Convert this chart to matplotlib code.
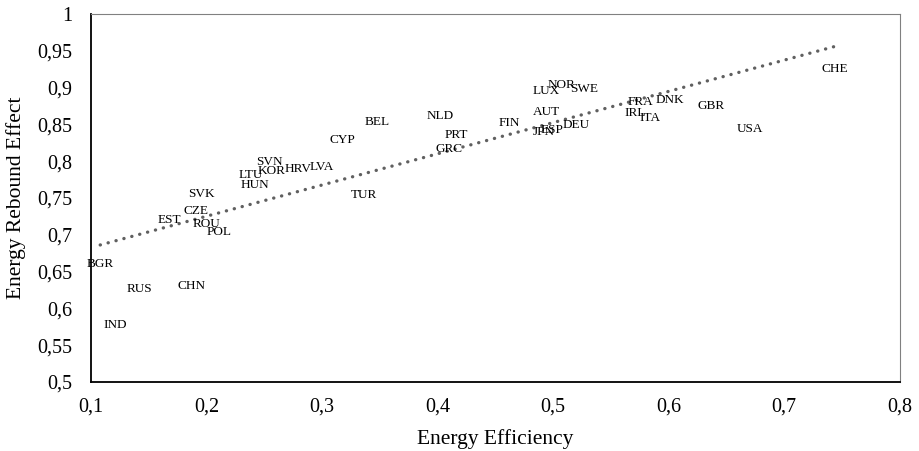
import numpy as np
import matplotlib
matplotlib.use("Agg")
from matplotlib import pyplot as plt
from matplotlib.ticker import FuncFormatter, MultipleLocator

# country codes with (efficiency, rebound)
countries = ["BGR", "RUS", "CHN", "IND", "SVK", "CZE", "EST", "ROU", "POL",
             "LTU", "HUN", "SVN", "KOR", "HRV", "LVA", "CYP", "TUR", "BEL",
             "NLD", "PRT", "GRC", "FIN", "LUX", "NOR", "SWE", "AUT", "JPN",
             "ESP", "DEU", "IRL", "FRA", "ITA", "DNK", "GBR", "USA", "CHE"]
efficiency = [0.108, 0.142, 0.187, 0.121, 0.196, 0.191, 0.168, 0.200, 0.211,
              0.238, 0.242, 0.254, 0.256, 0.279, 0.300, 0.318, 0.336, 0.348,
              0.402, 0.416, 0.410, 0.462, 0.494, 0.507, 0.527, 0.494, 0.492,
              0.499, 0.520, 0.571, 0.576, 0.584, 0.601, 0.637, 0.670, 0.744]
rebound = [0.660, 0.626, 0.630, 0.578, 0.756, 0.733, 0.720, 0.714, 0.704,
           0.781, 0.767, 0.799, 0.786, 0.790, 0.792, 0.829, 0.754, 0.853,
           0.862, 0.835, 0.816, 0.852, 0.896, 0.903, 0.898, 0.867, 0.840,
           0.843, 0.849, 0.866, 0.881, 0.858, 0.883, 0.875, 0.844, 0.925]

plt.rcParams['font.family'] = ['Liberation Serif', 'DejaVu Serif']

fig = plt.figure(figsize=(9.19, 4.51), dpi=100)
ax = fig.add_axes([0.099, 0.153, 0.880, 0.816])

# labels only, no markers (like the Excel data labels)
for name, xv, yv in zip(countries, efficiency, rebound):
    ax.text(xv, yv, name, ha="center", va="center", fontsize=9.5)

# linear trend line over the data range
x = np.array(efficiency)
y = np.array(rebound)
k, b = np.polyfit(x, y, 1)
xs = np.array([x.min(), x.max()])
ax.plot(xs, k * xs + b, color="#606060", linewidth=2.4,
        linestyle=(0, (0.05, 2.4)), dash_capstyle="round")

ax.set_xlim(0.1, 0.8)
ax.set_ylim(0.5, 1.0)
ax.xaxis.set_major_locator(MultipleLocator(0.1))
ax.yaxis.set_major_locator(MultipleLocator(0.05))
fmt = FuncFormatter(lambda v, p: ("%g" % round(v, 2)).replace(".", ","))
ax.xaxis.set_major_formatter(fmt)
ax.yaxis.set_major_formatter(fmt)
ax.tick_params(length=0, labelsize=14.5)
ax.tick_params(axis="x", pad=11)
ax.tick_params(axis="y", pad=13.5)

ax.spines["left"].set_color("black")
ax.spines["bottom"].set_color("black")
ax.spines["left"].set_linewidth(1.3)
ax.spines["bottom"].set_linewidth(1.3)
for s in ["top", "right"]:
    ax.spines[s].set_color("#808080")
    ax.spines[s].set_linewidth(0.8)

ax.set_xlabel("Energy Efficiency", fontsize=15.5, va="center")
ax.set_ylabel("Energy Rebound Effect", fontsize=15.5, va="center")
ax.xaxis.set_label_coords(0.5, -0.155)
ax.yaxis.set_label_coords(-0.093, 0.5)

fig.savefig("out.png", dpi=100)
